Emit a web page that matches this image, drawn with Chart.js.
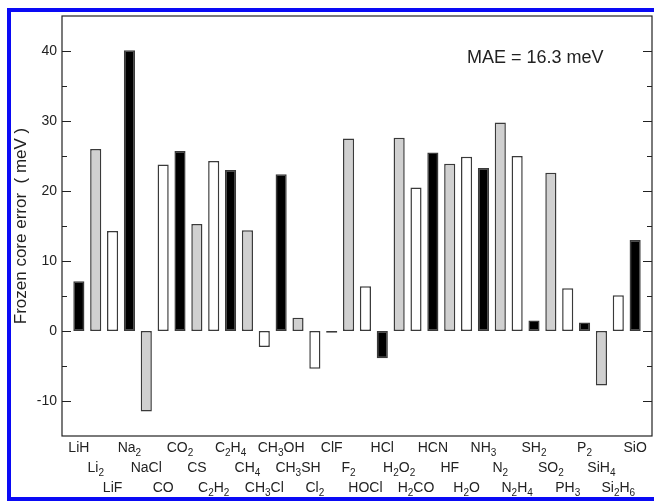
<!DOCTYPE html>
<html>
<head>
<meta charset="utf-8">
<title>Frozen core error</title>
<script src="https://cdn.jsdelivr.net/npm/chart.js@4/dist/chart.umd.min.js"></script>
<style>
  html, body { margin: 0; padding: 0; background: #fff; overflow: hidden; }
  #wrap { position: relative; width: 654px; height: 501px; }
  #frame {
    position: absolute; left: 7px; top: 8px; width: 700px; height: 493px;
    box-sizing: border-box; border: 4px solid #0a0af5;
  }
  #chart { position: absolute; left: 0; top: 0; }
</style>
</head>
<body>
<div id="wrap">
  <div id="frame"></div>
  <canvas id="chart" width="654" height="501"></canvas>
</div>
<script>
'use strict';

// molecules, in plot order (labels are staggered over three rows)
const molecules = [
  'LiH', 'Li2', 'LiF', 'Na2', 'NaCl', 'CO', 'CO2', 'CS', 'C2H2', 'C2H4',
  'CH4', 'CH3Cl', 'CH3OH', 'CH3SH', 'Cl2', 'ClF', 'F2', 'HOCl', 'HCl', 'H2O2',
  'H2CO', 'HCN', 'HF', 'H2O', 'NH3', 'N2', 'N2H4', 'SH2', 'SO2', 'PH3',
  'P2', 'SiH4', 'Si2H6', 'SiO'
];

// frozen core error in meV
const errors = [
  7.1, 26.0, 14.3, 40.1, -11.5, 23.8, 25.7, 15.3, 24.3, 23.0,
  14.4, -2.3, 22.4, 1.9, -5.4, -0.25, 27.5, 6.4, -3.9, 27.6,
  20.5, 25.5, 23.9, 24.9, 23.3, 29.8, 25.0, 1.5, 22.6, 6.1,
  1.2, -7.8, 5.1, 13.0
];

const yTicks = [-10, 0, 10, 20, 30, 40];
const yMinorTicks = [-15, -5, 5, 15, 25, 35, 45];
const maeText = 'MAE = 16.3 meV';

const fills = ['#000000', '#d0d0d0', '#ffffff'];
const FONT = '"Liberation Sans", Arial, Helvetica, sans-serif';
const INK = '#222';

function drawFormula(ctx, text, cx, baseline) {
  const parts = text.match(/\d+|\D+/g) || [];
  const mainFont = '14px ' + FONT;
  const subFont = '10px ' + FONT;
  let total = 0;
  parts.forEach((p) => {
    ctx.font = /\d/.test(p) ? subFont : mainFont;
    total += ctx.measureText(p).width;
  });
  let x = cx - total / 2;
  parts.forEach((p) => {
    const sub = /\d/.test(p);
    ctx.font = sub ? subFont : mainFont;
    ctx.fillText(p, x, sub ? baseline + 4 : baseline);
    x += ctx.measureText(p).width;
  });
}

const framePlugin = {
  id: 'frame',
  afterDatasetsDraw(chart) {
    const { ctx, chartArea: a, scales } = chart;
    const y = scales.y;
    const x = scales.x;
    ctx.save();

    // box
    ctx.strokeStyle = '#222';
    ctx.lineWidth = 1.2;
    ctx.strokeRect(a.left, a.top, a.right - a.left, a.bottom - a.top);

    // inward ticks, left and right
    const tick = (v, len) => {
      const py = Math.round(y.getPixelForValue(v)) + 0.5;
      ctx.beginPath();
      ctx.moveTo(a.left, py);
      ctx.lineTo(a.left + len, py);
      ctx.moveTo(a.right, py);
      ctx.lineTo(a.right - len, py);
      ctx.stroke();
    };
    yTicks.forEach((v) => tick(v, 9));
    yMinorTicks.forEach((v) => {
      if (v > y.min && v < y.max) tick(v, 5);
    });

    // staggered molecule labels
    ctx.fillStyle = INK;
    ctx.textAlign = 'left';
    ctx.textBaseline = 'alphabetic';
    molecules.forEach((m, i) => {
      const cx = x.getPixelForValue(i + 1);
      drawFormula(ctx, m, cx, 452 + 20 * (i % 3));
    });

    // MAE note
    ctx.font = '18px ' + FONT;
    ctx.fillText(maeText, 467, 63);
    ctx.restore();
  }
};

new Chart(document.getElementById('chart'), {
  type: 'bar',
  data: {
    datasets: [{
      data: errors.map((v, i) => ({ x: i + 1, y: v })),
      backgroundColor: (c) => fills[c.dataIndex % 3],
      borderColor: '#3a3a3a',
      borderWidth: 1.5,
      borderSkipped: false,
      barPercentage: 0.66,
      categoryPercentage: 1,
    }],
  },
  options: {
    responsive: false,
    animation: false,
    devicePixelRatio: 1,
    layout: { padding: { top: 16, right: 2, bottom: 0, left: 0 } },
    plugins: { legend: { display: false }, tooltip: { enabled: false } },
    scales: {
      x: {
        type: 'linear',
        min: 0,
        max: 35,
        offset: false,
        grid: { display: false },
        border: { display: false },
        ticks: { display: false },
        afterFit: (s) => { s.height = 65; },
      },
      y: {
        min: -15,
        max: 45,
        grid: { display: false, drawTicks: false },
        border: { display: false },
        afterBuildTicks: (s) => { s.ticks = yTicks.map((v) => ({ value: v })); },
        afterFit: (s) => { s.width = 62; },
        ticks: { font: { family: FONT, size: 14 }, color: INK, padding: 5 },
        title: {
          display: true,
          text: 'Frozen core error  ( meV )',
          font: { family: FONT, size: 17 },
          color: INK,
          padding: { top: 11, bottom: 0 },
        },
      },
    },
  },
  plugins: [framePlugin],
});
</script>
</body>
</html>
